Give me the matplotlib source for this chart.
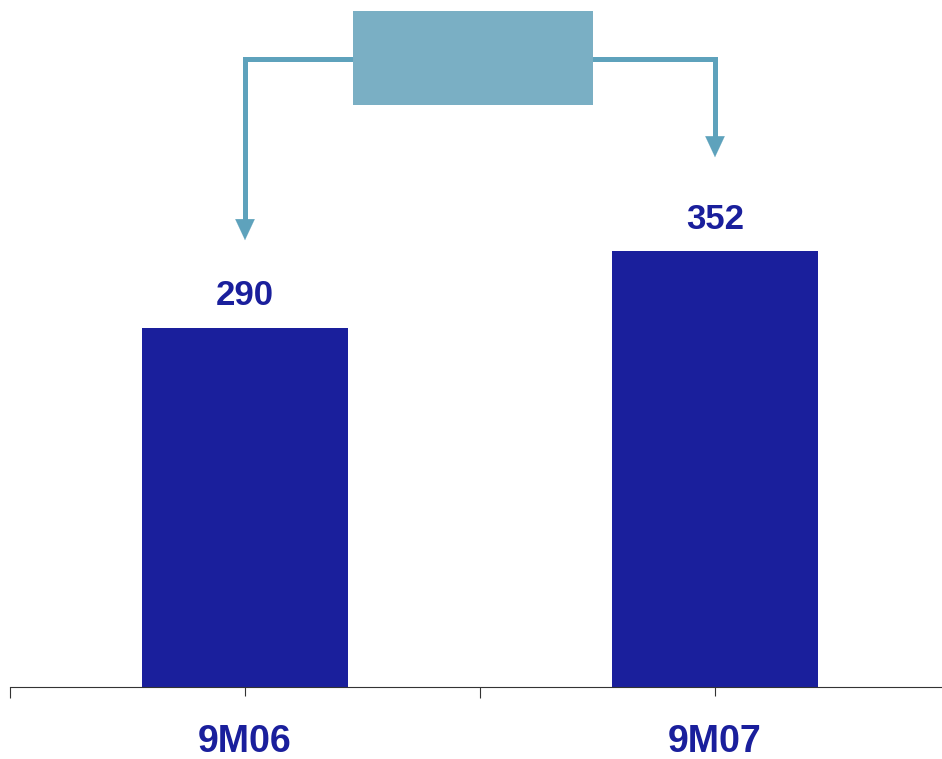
import matplotlib.pyplot as plt
from matplotlib.patches import Rectangle

# chart values
periods = ['9M06', '9M07']
values = [290, 352]

bar_color = '#1a1f9c'
box_color = '#7aafc4'
line_color = '#5ea2bc'

fig = plt.figure(figsize=(9.42, 7.59), dpi=100)
ax = fig.add_axes([10 / 942, 72 / 759, 940 / 942, 687 / 759])

x = list(range(len(periods)))
ax.bar(x, values, width=0.437, color=bar_color, zorder=2)
ax.set_xlim(-0.5, 1.5)
ax.set_ylim(0, 555)

for xi, v in zip(x, values):
    ax.text(xi, v + 26, str(v), ha='center', va='center', fontsize=25,
            fontweight='bold', color=bar_color, family=['Liberation Sans', 'DejaVu Sans'])

# axis look
for s in ['top', 'right', 'left']:
    ax.spines[s].set_visible(False)
ax.spines['bottom'].set_color('#333333')
ax.spines['bottom'].set_linewidth(0.8)
ax.set_yticks([])
ax.set_xticks([-0.5, 0.5, 1.5])
ax.set_xticklabels([])
ax.set_xticks(x, minor=True)
ax.set_xticklabels(periods, minor=True, fontsize=27, fontweight='bold', color=bar_color,
                   family=['Liberation Sans Narrow', 'Liberation Sans', 'DejaVu Sans'])
ax.tick_params(axis='x', which='major', length=8, width=0.8, color='#333333')
ax.tick_params(axis='x', which='minor', length=6.5, width=0.8, color='#333333', pad=20)

# connector box with arrows
box_left, box_right = 0.23, 0.74
box_bot, box_top = 470, 546
line_y = 507
ax.add_patch(Rectangle((box_left, box_bot), box_right - box_left, box_top - box_bot,
                       facecolor=box_color, edgecolor='none', zorder=3, clip_on=False))
tips = [361, 428]
head = 18
ax.plot([x[0], x[0], box_left], [tips[0] + head, line_y, line_y], color=line_color,
        lw=3.6, solid_joinstyle='miter', zorder=2)
ax.plot([box_right, x[1], x[1]], [line_y, line_y, tips[1] + head], color=line_color,
        lw=3.6, solid_joinstyle='miter', zorder=2)
for xi, t in zip(x, tips):
    ax.annotate('', xy=(xi, t), xytext=(xi, t + head + 2),
                arrowprops=dict(arrowstyle='-|>,head_length=1.5,head_width=0.7',
                                color=line_color, lw=0.1, shrinkA=0, shrinkB=0))

fig.savefig('out.png', dpi=100)
